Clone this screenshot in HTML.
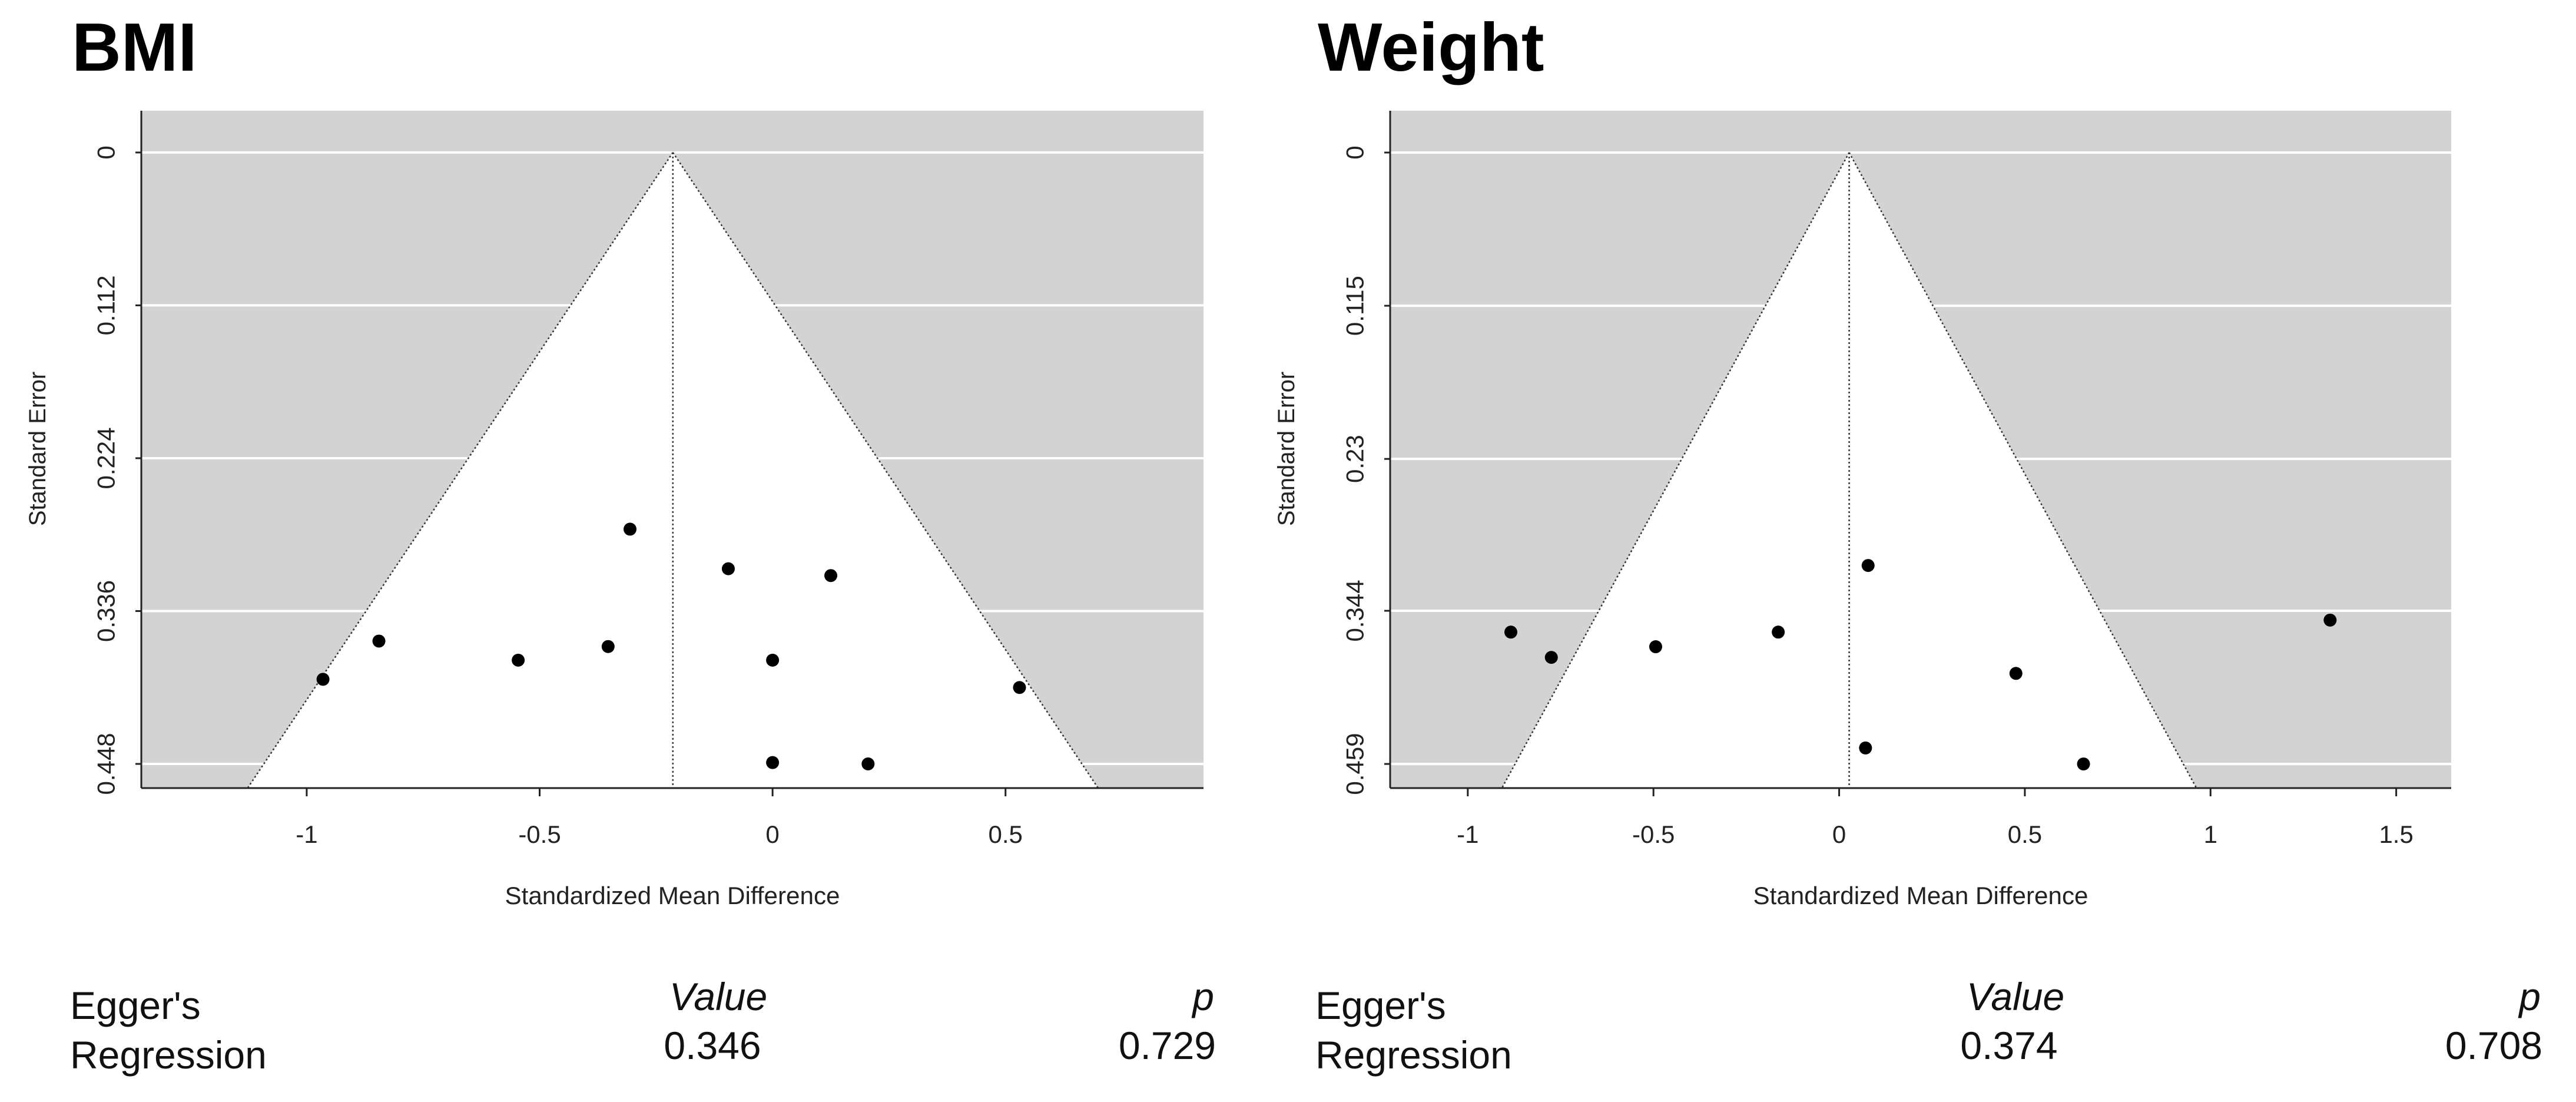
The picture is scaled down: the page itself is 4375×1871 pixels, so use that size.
<!DOCTYPE html>
<html><head><meta charset="utf-8"><style>
html,body{margin:0;padding:0;background:#fff;}
svg{display:block;font-family:"Liberation Sans",sans-serif;}
</style></head><body>
<svg id="fig" width="4375" height="1871" viewBox="0 0 4375 1871">
<text x="122" y="120" font-size="116" font-weight="bold">BMI</text>
<text x="2238" y="120" font-size="116" font-weight="bold">Weight</text>
<g font-size="66" fill="#111">
<text x="119" y="1730">Egger's</text>
<text x="119" y="1814">Regression</text>
<text x="1220" y="1715" text-anchor="middle" font-style="italic">Value</text>
<text x="1210" y="1798" text-anchor="middle">0.346</text>
<text x="2062" y="1715" text-anchor="end" font-style="italic">p</text>
<text x="2065" y="1798" text-anchor="end">0.729</text>
<text x="2234" y="1730">Egger's</text>
<text x="2234" y="1814">Regression</text>
<text x="3423" y="1715" text-anchor="middle" font-style="italic">Value</text>
<text x="3412" y="1798" text-anchor="middle">0.374</text>
<text x="4315" y="1715" text-anchor="end" font-style="italic">p</text>
<text x="4318" y="1798" text-anchor="end">0.708</text>
</g>
</svg>
<script>
// BMI data
const bmiSMD = [-0.306,-0.095,0.125,-0.845,-0.546,-0.353,0.0,-0.965,0.530,0.0,0.205];
const bmiSE  = [0.276,0.305,0.310,0.358,0.372,0.362,0.372,0.386,0.392,0.447,0.448];
const bmiCenter = -0.214;
const bmiXTicks = [-1,-0.5,0,0.5];
const bmiXTickLabels = ["-1","-0.5","0","0.5"];
const bmiYTicks = [0,0.112,0.224,0.336,0.448];
const bmiYTickLabels = ["0","0.112","0.224","0.336","0.448"];
const bmiXDomain = [-1.355,0.925];
const bmiYDomain = [-0.0306,0.4657];
// Weight data
const wtSMD = [0.078,-0.884,-0.775,-0.494,-0.164,1.322,0.476,0.071,0.658];
const wtSE  = [0.310,0.360,0.379,0.371,0.360,0.351,0.391,0.447,0.459];
const wtCenter = 0.027;
const wtXTicks = [-1,-0.5,0,0.5,1,1.5];
const wtXTickLabels = ["-1","-0.5","0","0.5","1","1.5"];
const wtYTicks = [0,0.115,0.23,0.344,0.459];
const wtYTickLabels = ["0","0.115","0.23","0.344","0.459"];
const wtXDomain = [-1.209,1.648];
const wtYDomain = [-0.0314,0.4771];

const NS="http://www.w3.org/2000/svg";
const svg=document.getElementById('fig');
function mk(tag,attrs,parent){const e=document.createElementNS(NS,tag);for(const k in attrs)e.setAttribute(k,attrs[k]);parent.appendChild(e);return e;}

function drawChart(prefix,box,xd,yd,center,smd,se,xt,xtl,yt,ytl){
  const g=mk('g',{},svg);
  
  
  const X=v=>box.l+(v-xd[0])/(xd[1]-xd[0])*(box.r-box.l);
  const Y=v=>box.t+(v-yd[0])/(yd[1]-yd[0])*(box.b-box.t);
  const bg=mk('rect',{x:box.l,y:box.t,width:box.r-box.l,height:box.b-box.t,fill:'#d3d3d3'},g);
  
  
  yt.forEach((v,i)=>{
    const gl=mk('line',{x1:box.l,x2:box.r,y1:Y(v),y2:Y(v),stroke:'#fff','stroke-width':4},g);
    
    
  });
  const seMax=yd[1];
  const xl=center-1.96*seMax, xr=center+1.96*seMax;
  const fun=mk('polygon',{points:`${X(center)},${Y(0)} ${X(xl)},${Y(seMax)} ${X(xr)},${Y(seMax)}`,fill:'#fff'},g);
  
  
  [[xl],[xr]].forEach(([xe])=>{
    const l=mk('line',{x1:X(center),y1:Y(0),x2:X(xe),y2:Y(seMax),stroke:'#333','stroke-width':2.5,'stroke-dasharray':'3,4'},g);
    
    
  });
  const cl=mk('line',{x1:X(center),y1:Y(0),x2:X(center),y2:box.b,stroke:'#333','stroke-width':2.5,'stroke-dasharray':'3,4'},g);
  
  
  smd.forEach((v,i)=>{
    const c=mk('circle',{cx:X(v),cy:Y(se[i]),r:11,fill:'#000'},g);
    
    
  });
  const ax=mk('line',{x1:box.l,x2:box.r,y1:box.b,y2:box.b,stroke:'#222','stroke-width':3},g);
  
  
  const ay=mk('line',{x1:box.l,x2:box.l,y1:box.t,y2:box.b,stroke:'#222','stroke-width':3},g);
  
  
  xt.forEach((v,i)=>{
    mk('line',{x1:X(v),x2:X(v),y1:box.b,y2:box.b+14,stroke:'#222','stroke-width':3},g);
    const t=mk('text',{x:X(v),y:box.b+93,'text-anchor':'middle','font-size':42,fill:'#222'},g);
    t.textContent=xtl[i];
    
    
  });
  yt.forEach((v,i)=>{
    mk('line',{x1:box.l-10,x2:box.l,y1:Y(v),y2:Y(v),stroke:'#222','stroke-width':3},g);
    const tx=box.l-60;
    const t=mk('text',{x:tx,y:Y(v),'text-anchor':'middle','font-size':42,fill:'#222',transform:`rotate(-90 ${tx} ${Y(v)})`,dy:'0.35em'},g);
    t.textContent=ytl[i];
    
    
  });
  const xt2=mk('text',{x:(box.l+box.r)/2,y:1535,'text-anchor':'middle','font-size':42,fill:'#222',textLength:569,lengthAdjust:'spacingAndGlyphs'},g);
  xt2.textContent='Standardized Mean Difference';
  
  
  const yx=box.l-177, yy=762;
  const yt2=mk('text',{x:yx,y:yy,'text-anchor':'middle','font-size':40,fill:'#222',transform:`rotate(-90 ${yx} ${yy})`,dy:'0.35em'},g);
  yt2.textContent='Standard Error';
  
  
}
drawChart('bmi',{l:240,r:2044,t:188,b:1338},bmiXDomain,bmiYDomain,bmiCenter,bmiSMD,bmiSE,bmiXTicks,bmiXTickLabels,bmiYTicks,bmiYTickLabels);
drawChart('weight',{l:2361,r:4163,t:188,b:1338},wtXDomain,wtYDomain,wtCenter,wtSMD,wtSE,wtXTicks,wtXTickLabels,wtYTicks,wtYTickLabels);
</script>
</body></html>
